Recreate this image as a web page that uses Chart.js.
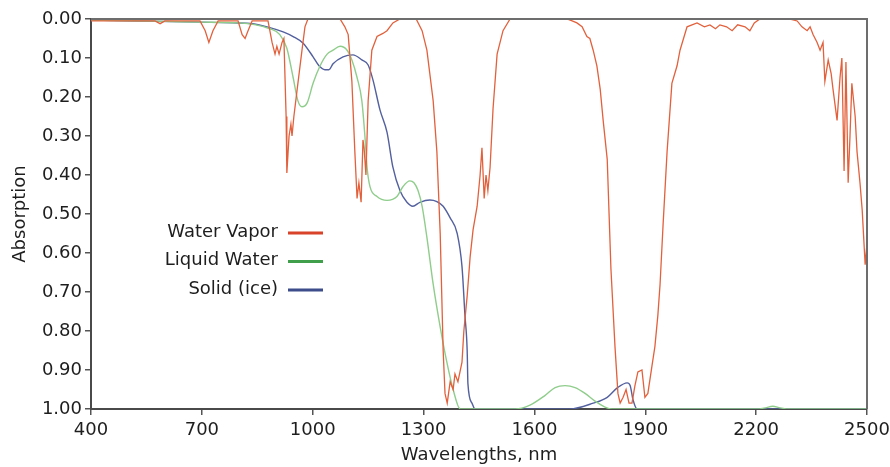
<!DOCTYPE html>
<html>
<head>
<meta charset="utf-8">
<script src="https://cdn.jsdelivr.net/npm/chart.js@4.4.1/dist/chart.umd.min.js"></script>
<style>
  html, body { margin: 0; padding: 0; background: #ffffff; }
  #wrap { width: 890px; height: 467px; }
</style>
</head>
<body>
<div id="wrap"><canvas id="c" width="890" height="467"></canvas></div>
<script>
// ---- data ----
const xTicks = [400, 700, 1000, 1300, 1600, 1900, 2200, 2500];
const yTicks = [0, 0.1, 0.2, 0.3, 0.4, 0.5, 0.6, 0.7, 0.8, 0.9, 1.0];
const seriesNames = ["Water Vapor", "Liquid Water", "Solid (ice)"];

const vaporWl = [400,505,573,587,600,695,709,719,730,744,798,809,817,825,836,879,890,898,903,909,917,922,928,930,936,941,944,949,958,971,979,987,1074,1087,1096,1106,1114,1120,1125,1131,1136,1139,1144,1150,1160,1174,1190,1201,1217,1236,1280,1296,1309,1326,1336,1345,1353,1358,1364,1372,1380,1385,1393,1404,1409,1418,1426,1434,1445,1453,1458,1464,1469,1474,1480,1488,1499,1515,1534,1688,1702,1715,1729,1742,1750,1759,1769,1778,1786,1797,1802,1807,1818,1826,1832,1840,1848,1856,1864,1872,1880,1891,1899,1907,1918,1926,1934,1940,1948,1959,1972,1986,1994,2013,2040,2060,2075,2090,2102,2120,2135,2150,2170,2183,2195,2210,2292,2311,2324,2338,2346,2354,2365,2373,2381,2386,2395,2403,2408,2419,2427,2432,2438,2443,2449,2454,2459,2468,2473,2481,2487,2495,2500];
const vaporAbs = [0.005,0.005,0.005,0.012,0.005,0.005,0.03,0.06,0.03,0.005,0.005,0.04,0.05,0.03,0.005,0.005,0.06,0.09,0.07,0.09,0.06,0.05,0.25,0.395,0.30,0.27,0.30,0.25,0.18,0.08,0.02,0,0,0.02,0.04,0.16,0.34,0.46,0.42,0.47,0.31,0.33,0.40,0.21,0.08,0.045,0.037,0.03,0.01,0,0,0.03,0.08,0.21,0.34,0.55,0.85,0.96,0.985,0.93,0.95,0.91,0.93,0.88,0.80,0.71,0.61,0.54,0.48,0.40,0.33,0.46,0.40,0.44,0.38,0.23,0.09,0.03,0,0,0.005,0.01,0.02,0.045,0.05,0.08,0.12,0.18,0.26,0.36,0.50,0.64,0.84,0.96,0.985,0.97,0.95,0.985,0.985,0.94,0.905,0.90,0.97,0.96,0.89,0.84,0.76,0.68,0.53,0.34,0.165,0.12,0.08,0.02,0.01,0.02,0.015,0.025,0.015,0.02,0.03,0.015,0.02,0.03,0.01,0,0,0.005,0.02,0.03,0.02,0.04,0.06,0.08,0.06,0.16,0.105,0.14,0.18,0.26,0.15,0.10,0.39,0.11,0.42,0.30,0.165,0.25,0.34,0.42,0.49,0.63,0.575];

const liquidWl = [400,600,700,800,884,911,930,947,960,971,985,1001,1020,1039,1055,1074,1093,1106,1120,1133,1142,1147,1155,1174,1201,1228,1244,1263,1274,1285,1296,1309,1326,1345,1363,1380,1399,1548,1588,1629,1656,1683,1710,1737,1764,1791,1810,2200,2225,2245,2265,2290,2500];
const liquidAbs = [0.003,0.006,0.008,0.01,0.025,0.04,0.075,0.15,0.21,0.225,0.215,0.165,0.12,0.09,0.08,0.07,0.08,0.105,0.15,0.21,0.31,0.38,0.43,0.455,0.465,0.455,0.43,0.415,0.42,0.44,0.48,0.56,0.68,0.79,0.88,0.95,1.0,1.0,0.99,0.965,0.945,0.94,0.945,0.96,0.98,0.995,1.0,1.0,0.997,0.993,0.997,1.0,1.0];

const iceWl = [400,695,784,838,884,920,947,974,1001,1017,1033,1044,1055,1082,1109,1133,1150,1163,1182,1201,1217,1236,1255,1271,1290,1317,1336,1353,1372,1391,1404,1412,1418,1420,1431,1439,1696,1759,1797,1824,1851,1859,1867,1878,2500];
const iceAbs = [0.003,0.008,0.01,0.012,0.022,0.033,0.045,0.062,0.097,0.12,0.13,0.13,0.115,0.097,0.092,0.105,0.118,0.156,0.233,0.29,0.38,0.44,0.47,0.48,0.47,0.464,0.468,0.48,0.51,0.55,0.635,0.76,0.85,0.935,0.985,1.0,1.0,0.985,0.97,0.946,0.933,0.94,0.977,1.0,1.0];

// ---- styles ----
const lineColors = ["#e2613c", "#8fcd8b", "#53609e"];
const legendColors = ["#d8432a", "#3f9f4a", "#3d4d8c"];
const FONT = "'DejaVu Sans', 'Liberation Sans', Arial, sans-serif";

function pts(xs, ys) { return xs.map((x, i) => ({ x: x, y: ys[i] })); }

const customLegend = {
  id: 'customLegend',
  afterDraw(chart) {
    const ctx = chart.ctx;
    ctx.save();
    const a = chart.chartArea;
    ctx.strokeStyle = '#6d6d6d';
    ctx.lineWidth = 2;
    ctx.beginPath();
    ctx.moveTo(a.left, a.top);
    ctx.lineTo(a.right, a.top);
    ctx.lineTo(a.right, a.bottom);
    ctx.stroke();
    ctx.font = "18px " + FONT;
    ctx.textAlign = 'right';
    ctx.textBaseline = 'middle';
    chart.data.datasets.forEach((ds, i) => {
      const y = 232 + i * 28.5;
      ctx.fillStyle = '#1e1e1e';
      ctx.fillText(ds.label, 278, y);
      ctx.strokeStyle = legendColors[i];
      ctx.lineWidth = 3;
      ctx.beginPath();
      ctx.moveTo(288, y + 1);
      ctx.lineTo(323, y + 1);
      ctx.stroke();
    });
    ctx.restore();
  }
};

new Chart(document.getElementById('c'), {
  type: 'line',
  data: {
    datasets: [
      { label: seriesNames[0], data: pts(vaporWl, vaporAbs), borderColor: lineColors[0], borderWidth: 1.3, pointRadius: 0, tension: 0, fill: false },
      { label: seriesNames[1], data: pts(liquidWl, liquidAbs), borderColor: lineColors[1], borderWidth: 1.4, pointRadius: 0, cubicInterpolationMode: 'monotone', fill: false },
      { label: seriesNames[2], data: pts(iceWl, iceAbs), borderColor: lineColors[2], borderWidth: 1.4, pointRadius: 0, cubicInterpolationMode: 'monotone', fill: false }
    ]
  },
  options: {
    responsive: false,
    animation: false,
    devicePixelRatio: 1,
    layout: { padding: { top: 19, right: 23, left: 0, bottom: 0 } },
    plugins: { legend: { display: false }, tooltip: { enabled: false } },
    scales: {
      x: {
        type: 'linear', min: 400, max: 2500,
        afterFit(s) { s.height = 58; s.paddingLeft = 0; s.paddingRight = 0; },
        afterBuildTicks(s) { s.ticks = xTicks.map(v => ({ value: v })); },
        grid: { display: true, drawOnChartArea: false, drawTicks: true, tickLength: 6, color: '#555', lineWidth: 1.5 },
        border: { display: true, color: '#4a4a4a', width: 2 },
        ticks: { color: '#1e1e1e', font: { family: FONT, size: 18 }, padding: 5, maxRotation: 0, autoSkip: false, callback: v => String(v) },
        title: { display: true, text: 'Wavelengths, nm', color: '#1e1e1e', font: { family: FONT, size: 18 }, padding: { top: 0, bottom: 1 } }
      },
      y: {
        type: 'linear', min: 0, max: 1, reverse: true,
        afterFit(s) { s.width = 91; s.paddingTop = 0; s.paddingBottom = 0; },
        afterBuildTicks(s) { s.ticks = yTicks.map(v => ({ value: v })); },
        grid: { display: true, drawOnChartArea: false, drawTicks: true, tickLength: 6, color: '#555', lineWidth: 1.5 },
        border: { display: true, color: '#4a4a4a', width: 2 },
        ticks: { color: '#1e1e1e', font: { family: FONT, size: 18 }, padding: 3, autoSkip: false, callback: v => Number(v).toFixed(2) },
        title: { display: true, text: 'Absorption', color: '#1e1e1e', font: { family: FONT, size: 18 }, padding: { top: 10, bottom: 0 } }
      }
    }
  },
  plugins: [customLegend]
});
</script>
</body>
</html>
